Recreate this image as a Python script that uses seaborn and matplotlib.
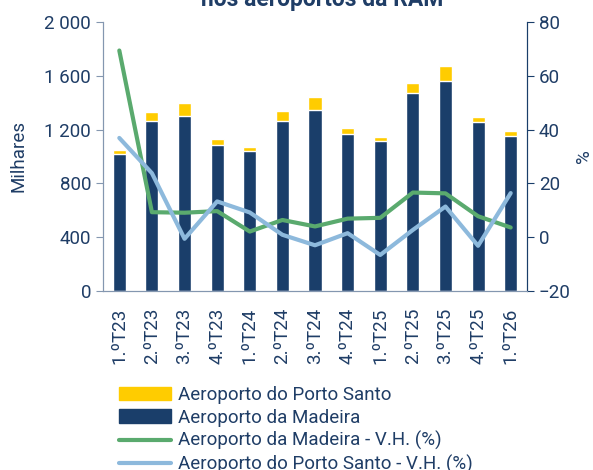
import matplotlib
matplotlib.use("Agg")
import matplotlib.pyplot as plt
import matplotlib.ticker as mticker
from matplotlib.patches import Patch
from matplotlib.lines import Line2D
import numpy as np
import seaborn as sns

# data (milhares / %)
quarters = ["1.ºT23", "2.ºT23", "3.ºT23", "4.ºT23", "1.ºT24", "2.ºT24", "3.ºT24",
            "4.ºT24", "1.ºT25", "2.ºT25", "3.ºT25", "4.ºT25", "1.ºT26"]
madeira = [1018, 1261, 1298, 1088, 1038, 1267, 1346, 1164, 1112, 1470, 1565, 1254, 1153]
porto_santo = [32, 72, 97, 42, 35, 69, 99, 45, 30, 77, 109, 42, 37]
madeira_vh = [69.4, 9.3, 9.1, 9.7, 2.1, 6.4, 4.0, 6.9, 7.2, 16.6, 16.3, 7.8, 3.6]
porto_santo_vh = [36.9, 23.8, -0.6, 13.3, 9.2, 0.9, -3.0, 1.5, -6.6, 2.7, 11.4, -3.2, 16.4]

YELLOW = "#FFCC00"
NAVY = "#1A3E6A"
GREEN = "#5AAA6E"
LBLUE = "#8DB9DC"
TXT = "#1F3D66"
FS = 13.5

sns.set_style("white")
plt.rcParams["font.family"] = ["Roboto", "DejaVu Sans"]
plt.rcParams["text.color"] = TXT
plt.rcParams["axes.labelcolor"] = TXT
plt.rcParams["xtick.color"] = TXT
plt.rcParams["ytick.color"] = TXT

fig = plt.figure(figsize=(5.93, 4.70), dpi=100)
ax = fig.add_axes([103 / 593, 1 - 291 / 470, 424 / 593, 269 / 470])

total = [m + p for m, p in zip(madeira, porto_santo)]
sns.barplot(x=quarters, y=total, color=YELLOW, width=0.4, saturation=1, ax=ax)
sns.barplot(x=quarters, y=madeira, color=NAVY, width=0.4, saturation=1, ax=ax)

ax.set_xlim(-0.5, len(quarters) - 0.5)
ax.set_ylim(0, 2000)
ax.set_yticks(range(0, 2001, 400))
ax.yaxis.set_major_formatter(mticker.FuncFormatter(lambda v, p: f"{int(v):,}".replace(",", " ")))
ax.set_ylabel("Milhares", fontsize=FS, labelpad=12)
ax.set_xlabel("")
ax.set_xticks(range(len(quarters)))
ax.set_xticklabels(quarters, rotation=90, fontsize=FS)
ax.tick_params(axis="x", which="major", length=0, pad=12)
ax.set_xticks(np.arange(-0.5, len(quarters), 1), minor=True)
ax.tick_params(axis="x", which="minor", length=5, color="#8497B0", direction="out")
ax.tick_params(axis="y", labelsize=FS, length=5, color="#8497B0", direction="out")

ax2 = ax.twinx()
sns.lineplot(x=np.arange(len(quarters)), y=madeira_vh, color=GREEN, lw=3, ax=ax2)
sns.lineplot(x=np.arange(len(quarters)), y=porto_santo_vh, color=LBLUE, lw=3, ax=ax2)
ax2.set_ylim(-20, 80)
ax2.set_yticks(range(-20, 81, 20))
ax2.set_ylabel("%", fontsize=FS, labelpad=3)
ax2.tick_params(axis="y", labelsize=FS, length=5, color=NAVY, direction="out")

for a in (ax, ax2):
    a.spines["top"].set_visible(False)
    a.spines["left"].set_color("#8497B0")
    a.spines["bottom"].set_color("#8497B0")
    a.spines["right"].set_color(NAVY)

fig.text(0.544, 1 - 6 / 470, "Movimento de passageiros\nnos aeroportos da RAM", ha="center", va="baseline",
         fontsize=16.5, fontweight="bold", color=TXT)

handles = [Patch(color=YELLOW), Patch(color=NAVY),
           Line2D([], [], color=GREEN, lw=3), Line2D([], [], color=LBLUE, lw=3)]
labels = ["Aeroporto do Porto Santo", "Aeroporto da Madeira",
          "Aeroporto da Madeira - V.H. (%)", "Aeroporto do Porto Santo - V.H. (%)"]
fig.legend(handles, labels, loc="upper left", bbox_to_anchor=(102 / 593, 1 - 369 / 470),
           frameon=False, fontsize=FS, handlelength=2.8, handletextpad=0.35,
           labelspacing=0.25, labelcolor=TXT)

fig.savefig("out.png", dpi=100)
